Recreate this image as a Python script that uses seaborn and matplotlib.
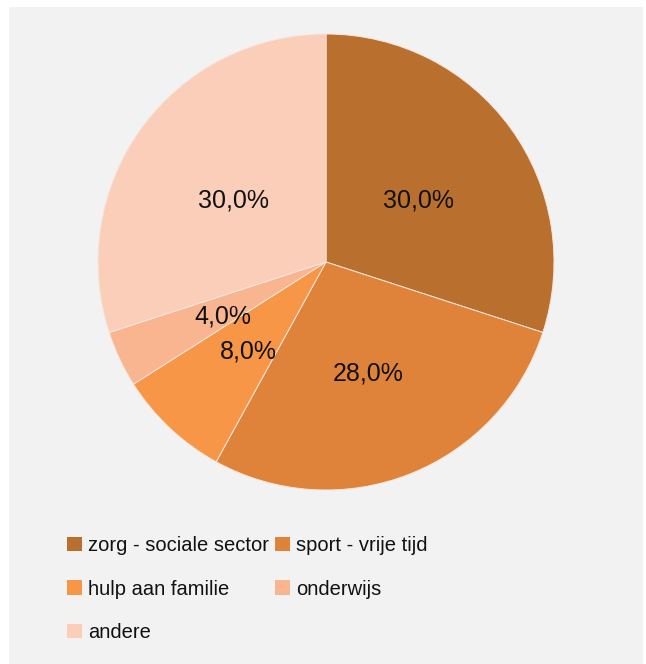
import matplotlib
matplotlib.use("Agg")
import matplotlib.pyplot as plt
from matplotlib.patches import Rectangle
import seaborn as sns

categories = ["zorg - sociale sector", "sport - vrije tijd", "hulp aan familie", "onderwijs", "andere"]
values = [30.0, 28.0, 8.0, 4.0, 30.0]
colors = ["#B9702F", "#E0833A", "#F79646", "#F9B590", "#FBCEB9"]

sns.set_style("white")
plt.rcParams['font.family'] = ['Liberation Sans', 'DejaVu Sans']

W, H = 646, 664
fig = plt.figure(figsize=(W / 100, H / 100), dpi=100, facecolor="white")
fig.patches.append(Rectangle((9 / W, 0), (643 - 9) / W, (664 - 7) / H,
                             transform=fig.transFigure, facecolor="#F2F2F2",
                             edgecolor="none", zorder=-10))

cx, cy, r = 326, 262, 228
ax = fig.add_axes([(cx - r) / W, 1 - (cy + r) / H, 2 * r / W, 2 * r / H])
ax.set_facecolor("none")

palette = sns.color_palette(colors)
wedges, texts, autotexts = ax.pie(
    values, colors=palette, startangle=90, counterclock=False,
    autopct=lambda p: f"{p:.1f}%".replace(".", ","), pctdistance=0.5,
    wedgeprops=dict(edgecolor="#F6E6DC", linewidth=0.7),
    textprops=dict(fontsize=18, color="#111111"))
for t in autotexts:
    x, y = t.get_position()
    t.set_position((x, y - 6 / r))
ax.set_xlim(-1, 1)
ax.set_ylim(-1, 1)
ax.axis("off")

order = [0, 2, 4, 1, 3]
leg = fig.legend([wedges[i] for i in order], [categories[i] for i in order],
                 ncol=2, loc="upper left", bbox_to_anchor=(67 / W, 1 - 536 / H),
                 frameon=False, fontsize=14.5, handlelength=0.75, handleheight=0.75,
                 handletextpad=0.3, columnspacing=0.3, labelspacing=1.22,
                 borderpad=0, borderaxespad=0)
for t in leg.get_texts():
    t.set_color("#111111")
for h in leg.legend_handles:
    h.set_edgecolor("none")

fig.savefig("out.png", dpi=100, facecolor="white")
